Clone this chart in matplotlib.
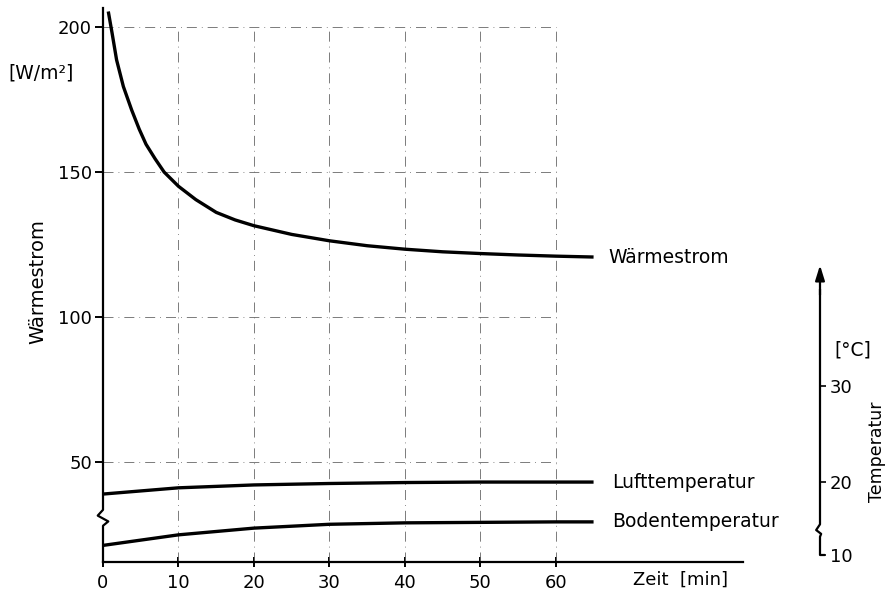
import numpy as np
import matplotlib
matplotlib.use("Agg")
import matplotlib.pyplot as plt
from matplotlib.transforms import blended_transform_factory

plt.rcParams['font.family'] = ['DejaVu Sans']

# Wärmestrom [W/m2] über der Zeit [min]
t_waerme = [0.7, 1.2, 1.8, 2.7, 3.8, 4.8, 5.7, 6.9, 8.1, 10, 12.3, 15, 17.5, 20, 25,
            30, 35, 40, 45, 50, 55, 60, 65]
waermestrom = [205.4, 198, 188.7, 179.5, 171.4, 164.8, 159.6, 154.6, 150, 145.1, 140.5, 136.1, 133.5, 131.5, 128.5,
               126.3, 124.6, 123.4, 122.5, 121.9, 121.4, 121, 120.7]

# Temperaturen [°C]
t_temp = [0, 10, 20, 30, 40, 50, 60, 65]
lufttemp = [18.75, 19.4, 19.7, 19.85, 19.95, 20.0, 20.0, 20.0]
bodentemp = [13.4, 14.5, 15.2, 15.6, 15.75, 15.8, 15.85, 15.85]

x_ticks = [0, 10, 20, 30, 40, 50, 60]
y_ticks = [50, 100, 150, 200]
t_ticks = [12.4, 20, 30]
t_ticklabels = ['10', '20', '30']

W, H = 886, 593
fig = plt.figure(figsize=(W / 100, H / 100), dpi=100)
ax = fig.add_axes([103 / W, 1 - 562 / H, 640 / W, 554 / H])
ax.set_xlim(0, 84.8)
ax.set_ylim(15.5, 206.6)

# gitter (strichpunkt)
grid_style = dict(color='#666666', lw=0.6, ls=(0, (12, 6, 1, 6)))
for xv in x_ticks[1:]:
    ax.plot([xv, xv], [ax.get_ylim()[0], 200], **grid_style)
for yv in y_ticks:
    ax.plot([0, 60], [yv, yv], **grid_style)

# kurven
ax.plot(t_waerme, waermestrom, color='k', lw=2.4, solid_capstyle='butt', solid_joinstyle='round')
ax.text(66.9, waermestrom[-1], 'Wärmestrom', fontsize=13.5, va='center')

ax2 = ax.twinx()
ax2.set_ylim(11.67, 69.4)
ax2.plot(t_temp, lufttemp, color='k', lw=2.4, solid_capstyle='butt')
ax2.plot(t_temp, bodentemp, color='k', lw=2.4, solid_capstyle='butt')
ax2.text(67.5, lufttemp[-1], 'Lufttemperatur', fontsize=13.5, va='center')
ax2.text(67.5, bodentemp[-1], 'Bodentemperatur', fontsize=13.5, va='center')

# achsen
for s in ['top', 'right', 'left']:
    ax.spines[s].set_visible(False)
ax.spines['bottom'].set_linewidth(1.6)
ax.set_xticks(x_ticks)
ax.set_yticks(y_ticks)
ax.tick_params(axis='x', direction='inout', length=7, width=1.4, labelsize=13, pad=5)
ax.tick_params(axis='y', direction='out', length=6, width=1.4, labelsize=13, pad=2)

# linke achse mit bruch
lx = [0, 0, -0.7, 0.7, 0, 0]
ly = [206.6, 33.5, 31.5, 29.5, 28.0, 15.5]
ax.plot(lx, ly, color='k', lw=1.6, clip_on=False)

# rechte achse mit pfeil und bruch
for s in ['top', 'left', 'bottom']:
    ax2.spines[s].set_visible(False)
xr = (820 - 103) / 640
ax2.spines['right'].set_position(('axes', xr))
ax2.spines['right'].set_color('none')
ax2.set_yticks(t_ticks)
ax2.set_yticklabels(t_ticklabels)
ax2.tick_params(axis='y', direction='out', length=4, width=1.2, labelsize=13, pad=3, colors='k')
tr = blended_transform_factory(ax2.transAxes, ax2.transData)
d = 0.006
ax2.plot([xr, xr, xr - d, xr + d * 0.3, xr, xr, xr + d],
         [40, 15.6, 15.0, 14.6, 14.3, 12.4, 12.4],
         color='k', lw=1.6, transform=tr, clip_on=False)
ax2.annotate('', xy=(xr, 42.6), xytext=(xr, 39.5), xycoords=tr, textcoords=tr,
             arrowprops=dict(arrowstyle='-|>,head_length=0.9,head_width=0.28',
                             color='k', lw=1.6, shrinkA=0, shrinkB=0),
             annotation_clip=False)

# beschriftungen
fig.text(8 / W, 1 - 73 / H, '[W/m²]', fontsize=13.5, va='center', ha='left')
fig.text(38 / W, 1 - 282 / H, 'Wärmestrom', fontsize=14, rotation=90, va='center', ha='center')
fig.text(633 / W, 1 - 580 / H, 'Zeit  [min]', fontsize=13, va='center', ha='left')
fig.text(834 / W, 1 - 350 / H, '[°C]', fontsize=13.5, va='center', ha='left')
fig.text(877 / W, 1 - 452 / H, 'Temperatur', fontsize=12.5, rotation=90, va='center', ha='center')

fig.savefig('out.png', dpi=100)
